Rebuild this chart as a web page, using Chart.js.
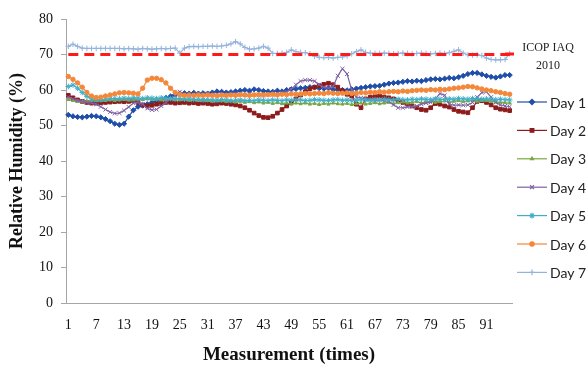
<!DOCTYPE html>
<html>
<head>
<meta charset="utf-8">
<title>Relative Humidity</title>
<script src="https://cdn.jsdelivr.net/npm/chart.js@4.4.0/dist/chart.umd.min.js"></script>
<style>
    body { margin: 0; background: #fff; }
    #wrap { width: 586px; height: 368px; }
</style>
</head>
<body>
<div id="wrap"><canvas id="rhChart" width="586" height="368"></canvas></div>
<script>
// measurements 1..96
const measurements = Array.from({ length: 96 }, (_, i) => String(i + 1));
const yTicks = [0, 10, 20, 30, 40, 50, 60, 70, 80];

const icopLimit = 70;

const day1 = [53.0, 52.6, 52.4, 52.3, 52.5, 52.7, 52.6, 52.3, 51.8, 51.2,
    50.5, 50.2, 50.5, 52.5, 54.3, 55.3, 55.6, 56.0, 56.5, 56.8,
    57.3, 57.8, 58.2, 58.7, 59.0, 59.1, 59.0, 59.2, 59.0, 59.1,
    59.0, 59.3, 59.6, 59.5, 59.3, 59.4, 59.6, 59.8, 60.0, 59.8,
    60.2, 60.0, 59.7, 59.6, 59.5, 59.8, 59.6, 60.0, 60.2, 60.3,
    60.5, 60.6, 60.8, 60.7, 60.5, 60.4, 60.5, 60.2, 60.0, 60.0,
    59.9, 60.2, 60.4, 60.6, 60.8, 61.0, 61.1, 61.2, 61.5, 61.8,
    62.0, 62.1, 62.3, 62.5, 62.4, 62.6, 62.5, 62.8, 63.0, 63.1,
    63.0, 63.2, 63.4, 63.3, 63.6, 64.0, 64.5, 64.8, 64.8, 64.4,
    64.0, 63.7, 63.5, 63.8, 64.2, 64.2];
const day2 = [58.5, 57.8, 57.2, 56.8, 56.5, 56.3, 56.3, 56.4, 56.5, 56.6,
    56.7, 56.8, 56.7, 56.8, 57.0, 56.5, 55.8, 55.5, 55.7, 56.0,
    56.2, 56.5, 56.5, 56.3, 56.4, 56.5, 56.3, 56.4, 56.2, 56.3,
    56.2, 56.0, 56.1, 56.3, 56.2, 56.0, 55.8, 55.5, 55.0, 54.3,
    53.5, 52.8, 52.3, 52.2, 52.6, 53.5, 54.5, 55.5, 56.5, 57.5,
    58.6, 59.5, 60.3, 60.8, 61.2, 61.6, 61.9, 61.5, 60.8, 59.8,
    58.8, 58.3, 56.0, 55.0, 57.5, 58.0, 58.2, 58.3, 58.0, 57.8,
    57.5, 57.0, 56.5, 56.0, 55.5, 55.0, 54.5, 54.3, 55.0, 56.2,
    56.0, 55.5, 55.2, 54.5, 54.0, 53.8, 53.6, 55.0, 56.8, 57.0,
    56.5, 55.8, 55.0, 54.6, 54.4, 54.2];
const day3 = [57.3, 57.0, 56.8, 56.8, 56.9, 57.0, 57.0, 57.1, 57.0, 57.2,
    57.0, 57.2, 57.3, 57.1, 57.2, 57.4, 57.3, 57.5, 57.3, 57.4,
    57.2, 57.3, 57.5, 57.3, 57.2, 57.4, 57.1, 57.3, 57.0, 57.2,
    57.0, 56.8, 57.0, 56.9, 56.7, 56.9, 56.6, 56.8, 56.5, 56.7,
    56.4, 56.6, 56.3, 56.5, 56.2, 56.4, 56.1, 56.3, 56.0, 56.3,
    56.1, 56.3, 56.0, 56.2, 55.9, 56.2, 56.0, 56.3, 56.1, 56.0,
    56.2, 55.9, 56.1, 56.3, 56.0, 56.2, 56.4, 56.1, 56.3, 56.5,
    56.2, 56.4, 56.6, 56.3, 56.5, 56.7, 56.4, 56.6, 56.8, 56.5,
    56.7, 56.9, 56.6, 56.8, 57.0, 56.7, 56.9, 57.1, 56.8, 57.0,
    57.0, 56.8, 56.6, 56.5, 56.4, 56.3];
const day4 = [58.0, 57.5, 57.0, 56.8, 56.5, 56.3, 56.0, 55.3, 54.5, 53.8,
    53.4, 53.5, 54.2, 55.2, 56.3, 56.5, 56.0, 54.8, 54.4, 54.5,
    55.5, 56.5, 57.5, 58.5, 59.5, 58.8, 58.5, 58.6, 58.8, 58.7,
    58.9, 58.6, 58.8, 58.7, 58.5, 58.8, 58.9, 58.7, 58.6, 58.8,
    58.7, 58.5, 58.6, 58.8, 58.7, 59.0, 59.2, 59.5, 60.2, 61.5,
    62.5, 62.8, 62.8, 62.5, 61.5, 60.8, 60.5, 61.0, 64.0, 66.0,
    64.5, 60.0, 58.0, 57.8, 57.5, 57.3, 57.0, 57.2, 57.0, 56.8,
    55.8, 55.0, 55.0, 55.2, 55.3, 55.5, 56.0, 56.3, 56.5, 57.5,
    59.0, 58.5, 56.0, 55.7, 55.8, 55.7, 55.8, 56.5, 58.0, 59.3,
    59.5, 58.0, 56.5, 55.8, 55.5, 55.3];
const day5 = [61.0, 61.4, 60.5, 59.3, 58.2, 57.5, 57.3, 57.2, 57.4, 57.5,
    57.6, 57.5, 57.7, 57.6, 57.8, 57.7, 57.6, 57.8, 57.7, 57.6,
    57.8, 57.7, 57.6, 57.5, 57.6, 57.4, 57.5, 57.3, 57.4, 57.2,
    57.3, 57.2, 57.1, 57.3, 57.2, 57.0, 57.1, 57.2, 57.0, 57.1,
    57.0, 57.2, 57.1, 57.0, 57.2, 57.1, 57.0, 57.2, 57.1, 57.3,
    57.2, 57.0, 57.1, 57.3, 57.2, 57.1, 57.0, 57.2, 57.3, 57.1,
    57.2, 57.0, 57.1, 57.3, 57.2, 57.1, 57.3, 57.2, 57.4, 57.3,
    57.2, 57.4, 57.3, 57.2, 57.4, 57.3, 57.5, 57.4, 57.3, 57.5,
    57.4, 57.3, 57.5, 57.4, 57.6, 57.5, 57.4, 57.6, 57.5, 57.4,
    57.5, 57.4, 57.3, 57.4, 57.3, 57.2];
const day6 = [63.8, 63.0, 62.0, 60.8, 59.3, 58.3, 57.9, 58.0, 58.3, 58.6,
    58.9, 59.2, 59.3, 59.2, 59.1, 58.9, 60.5, 62.8, 63.3, 63.3,
    62.9, 62.0, 60.5, 59.3, 58.7, 58.5, 58.6, 58.5, 58.6, 58.5,
    58.6, 58.5, 58.4, 58.6, 58.5, 58.6, 58.5, 58.7, 58.6, 58.5,
    58.6, 58.7, 58.6, 58.7, 58.8, 58.6, 58.8, 58.7, 58.9, 58.8,
    58.9, 59.0, 58.9, 59.0, 59.1, 59.0, 59.2, 59.1, 59.0, 59.1,
    59.2, 59.0, 59.1, 59.3, 59.2, 59.4, 59.3, 59.5, 59.4, 59.5,
    59.6, 59.5, 59.7, 59.6, 59.8, 59.9, 60.0, 59.9, 60.1, 60.0,
    60.2, 60.1, 60.3, 60.5, 60.6, 60.8, 61.0, 60.9, 60.6, 60.3,
    60.0, 59.8, 59.5, 59.3, 59.0, 58.8];
const day7 = [72.3, 72.9, 72.3, 71.8, 71.7, 71.7, 71.7, 71.7, 71.7, 71.7,
    71.7, 71.7, 71.6, 71.7, 71.6, 71.5, 71.7, 71.6, 71.5, 71.6,
    71.7, 71.6, 71.7, 71.8, 70.4, 71.8, 72.2, 72.3, 72.2, 72.3,
    72.3, 72.4, 72.3, 72.4, 72.6, 73.0, 73.6, 73.0, 72.0, 71.5,
    71.6, 71.8, 72.3, 71.8, 70.3, 70.3, 70.4, 70.6, 71.3, 70.8,
    70.6, 70.5, 70.2, 69.5, 69.2, 69.1, 69.2, 69.0, 69.2, 69.3,
    69.6, 70.2, 70.8, 71.3, 70.6, 70.4, 70.3, 70.3, 70.4, 70.3,
    70.2, 70.3, 70.4, 70.3, 70.2, 70.3, 70.4, 70.3, 70.2, 70.3,
    70.4, 70.3, 70.5, 70.9, 71.3, 70.4, 69.9, 69.8, 69.9, 69.7,
    69.0, 68.6, 68.5, 68.5, 68.6, 70.3];

const seriesNames = ['Day 1', 'Day 2', 'Day 3', 'Day 4', 'Day 5', 'Day 6', 'Day 7'];
const seriesValues = [day1, day2, day3, day4, day5, day6, day7];
const seriesColors = ['#1f4ea8', '#8e1b1b', '#7aa83c', '#7f62a6', '#40aec8', '#f3883a', '#93b4dc'];
const seriesMarkers = ['rectRot', 'rect', 'triangle', 'crossRot', 'star', 'circle', 'cross'];
const markerSizes = [2.6, 2.6, 1.8, 2.8, 2.8, 2.2, 2.8];

const serif = '"Liberation Serif", "Times New Roman", serif';

const datasets = seriesNames.map((name, i) => ({
    label: name,
    data: seriesValues[i],
    borderColor: seriesColors[i],
    backgroundColor: seriesColors[i],
    borderWidth: 1.2,
    pointStyle: seriesMarkers[i],
    pointRadius: markerSizes[i],
    pointBorderWidth: 1,
    tension: 0,
    order: 7 - i
}));

datasets.push({
    label: 'ICOP IAQ 2010',
    data: measurements.map(() => icopLimit),
    borderColor: '#ff1a1a',
    borderWidth: 3,
    borderDash: [10, 6],
    pointRadius: 0,
    order: -1
});

// legend on the right, drawn on the canvas
const sideLegend = {
    id: 'sideLegend',
    afterDraw(chart) {
        const ctx = chart.ctx;
        ctx.save();
        const sets = chart.data.datasets;
        const limit = sets[sets.length - 1];

        ctx.strokeStyle = limit.borderColor;
        ctx.lineWidth = 3;
        ctx.beginPath();
        ctx.moveTo(505, 54);
        ctx.lineTo(514, 54);
        ctx.stroke();
        ctx.fillStyle = '#222';
        ctx.font = '12px ' + serif;
        ctx.textAlign = 'center';
        ctx.textBaseline = 'middle';
        ctx.fillText('ICOP IAQ', 548, 48);
        ctx.fillText('2010', 548, 66);

        ctx.font = '14px Lato, "Open Sans", sans-serif';
        ctx.textAlign = 'left';
        for (let i = 0; i < sets.length - 1; i++) {
            const ds = sets[i];
            const y = 102 + i * 28.4;
            ctx.strokeStyle = ds.borderColor;
            ctx.lineWidth = 1.2;
            ctx.beginPath();
            ctx.moveTo(517, y);
            ctx.lineTo(547, y);
            ctx.stroke();
            ctx.fillStyle = ds.borderColor;
            Chart.helpers.drawPoint(ctx, {
                pointStyle: ds.pointStyle,
                radius: ds.pointRadius,
                borderWidth: 1,
                rotation: 0
            }, 532, y);
            ctx.fillStyle = '#222';
            ctx.fillText(ds.label, 550, y + 1);
        }
        ctx.restore();
    }
};

const ctx = document.getElementById('rhChart').getContext('2d');
const rhChart = new Chart(ctx, {
    type: 'line',
    data: { labels: measurements, datasets: datasets },
    options: {
        responsive: false,
        animation: false,
        layout: { padding: { top: 19, right: 74, left: 0, bottom: 0 } },
        plugins: {
            legend: { display: false },
            tooltip: { enabled: false }
        },
        scales: {
            x: {
                type: 'category',
                offset: true,
                grid: { display: false, drawTicks: false },
                border: { color: '#a6a6a6', width: 1 },
                ticks: {
                    autoSkip: false,
                    maxRotation: 0,
                    padding: 14,
                    color: '#111',
                    font: { family: serif, size: 14 },
                    callback: (v, i) => (i % 6 === 0 ? measurements[i] : '')
                },
                title: {
                    display: true,
                    text: 'Measurement (times)',
                    color: '#111',
                    font: { family: serif, size: 19, weight: 'bold' },
                    padding: { top: 0, bottom: 2 }
                },
                afterFit: (scale) => { scale.height = 65; }
            },
            y: {
                min: 0,
                max: 80,
                afterBuildTicks: (scale) => { scale.ticks = yTicks.map(v => ({ value: v })); },
                grid: { drawOnChartArea: false, drawTicks: true, tickLength: 5, color: '#a6a6a6' },
                border: { color: '#a6a6a6', width: 1 },
                ticks: {
                    padding: 8,
                    color: '#111',
                    font: { family: serif, size: 14 }
                },
                title: {
                    display: true,
                    text: 'Relative Humidity (%)',
                    color: '#111',
                    font: { family: serif, size: 18, weight: 'bold' },
                    padding: { top: 7, bottom: 0 }
                },
                afterFit: (scale) => { scale.width = 66; }
            }
        }
    },
    plugins: [sideLegend]
});
</script>
</body>
</html>
